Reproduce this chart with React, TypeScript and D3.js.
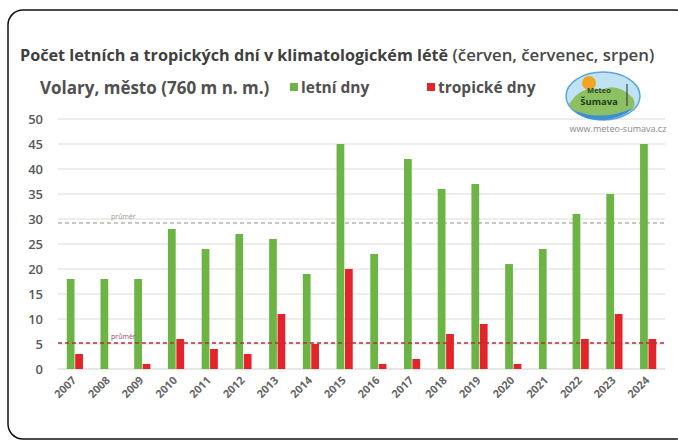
import * as d3 from 'd3'
import { useEffect, useRef } from 'react'

const years = ['2007', '2008', '2009', '2010', '2011', '2012', '2013', '2014', '2015', '2016', '2017', '2018', '2019', '2020', '2021', '2022', '2023', '2024']
const summerDays = [18, 18, 18, 28, 24, 27, 26, 19, 45, 23, 42, 36, 37, 21, 24, 31, 35, 45]
const tropicalDays = [3, 0, 1, 6, 4, 3, 11, 5, 20, 1, 2, 7, 9, 1, 0, 6, 11, 6]
const yTicks = [0, 5, 10, 15, 20, 25, 30, 35, 40, 45, 50]
const summerAvg = 29.2
const tropicalAvg = 5.2

const GREEN = '#6cb544'
const RED = '#e4242b'
const FONT = '"Open Sans", Lato, sans-serif'

export default function App() {
  const svgRef = useRef(null)

  const update = () => {
    const svg = d3.select(svgRef.current)
    svg.selectAll('*').remove()

    // frame
    svg.append('rect')
      .attr('x', 8).attr('y', 10)
      .attr('width', 682).attr('height', 429)
      .attr('rx', 15).attr('ry', 15)
      .attr('fill', '#fff')
      .attr('stroke', '#111').attr('stroke-width', 1.5)

    const left = 58, right = 665, top = 119, bottom = 369

    const x0 = d3.scaleBand().domain(years).range([left, right]).paddingInner(0.48).paddingOuter(0.24)
    const x1 = d3.scaleBand().domain(['s', 't']).range([0, x0.bandwidth()]).padding(0.08)
    const y = d3.scaleLinear().domain([0, 50]).range([bottom, top])

    // grid
    svg.append('g').selectAll('line').data(yTicks).join('line')
      .attr('x1', left).attr('x2', right)
      .attr('y1', d => y(d)).attr('y2', d => y(d))
      .attr('stroke', d => d === 0 ? '#cfcfcf' : '#dcdcdc').attr('stroke-width', 1.2)

    svg.append('g').selectAll('text').data(yTicks).join('text')
      .attr('x', 43).attr('y', d => y(d) + 5)
      .attr('text-anchor', 'end')
      .style('font-family', FONT).style('font-size', '13px').style('font-weight', 600)
      .attr('fill', '#595959')
      .text(d => d)

    // average line for summer days
    svg.append('line')
      .attr('x1', left).attr('x2', right)
      .attr('y1', y(summerAvg)).attr('y2', y(summerAvg))
      .attr('stroke', '#b5b8a8').attr('stroke-width', 1.3).attr('stroke-dasharray', '4,3')
    svg.append('text')
      .attr('x', 111).attr('y', y(summerAvg) - 4)
      .style('font-family', FONT).style('font-size', '7px')
      .attr('fill', '#9a9a8a').text('průměr')

    // bars
    const g = svg.append('g')
    g.selectAll('rect.s').data(years).join('rect')
      .attr('class', 's')
      .attr('x', d => (x0(d) as number) + (x1('s') as number))
      .attr('width', x1.bandwidth())
      .attr('y', (d, i) => y(summerDays[i]))
      .attr('height', (d, i) => bottom - y(summerDays[i]))
      .attr('fill', GREEN)
    g.selectAll('rect.t').data(years).join('rect')
      .attr('class', 't')
      .attr('x', d => (x0(d) as number) + (x1('t') as number))
      .attr('width', x1.bandwidth())
      .attr('y', (d, i) => y(tropicalDays[i]))
      .attr('height', (d, i) => bottom - y(tropicalDays[i]))
      .attr('fill', RED)

    // average line for tropical days
    svg.append('line')
      .attr('x1', left).attr('x2', right)
      .attr('y1', y(tropicalAvg)).attr('y2', y(tropicalAvg))
      .attr('stroke', '#b0303a').attr('stroke-width', 1.3).attr('stroke-dasharray', '4,3')
    svg.append('text')
      .attr('x', 111).attr('y', y(tropicalAvg) - 4)
      .style('font-family', FONT).style('font-size', '7px')
      .attr('fill', '#a0407a').text('průměr')

    // x labels
    svg.append('g').selectAll('text').data(years).join('text')
      .attr('transform', d => `translate(${(x0(d) as number) + x0.bandwidth() / 2 + 2},${bottom + 12}) rotate(-45)`)
      .attr('text-anchor', 'end')
      .style('font-family', FONT).style('font-size', '11px').style('font-weight', 700)
      .attr('fill', '#666')
      .text(d => d)

    // title
    const title = svg.append('text')
      .attr('x', 20).attr('y', 61)
      .style('font-family', FONT).attr('fill', '#404040')
    title.append('tspan').style('font-size', '16.2px').style('font-weight', 700)
      .text('Počet letních a tropických dní v klimatologickém létě')
    title.append('tspan').style('font-size', '16.8px').style('font-weight', 600).attr('fill', '#484848')
      .text(' (červen, červenec, srpen)')

    svg.append('text')
      .attr('x', 40).attr('y', 94)
      .style('font-family', FONT).style('font-size', '17px').style('font-weight', 700)
      .attr('fill', '#505050')
      .text('Volary, město (760 m n. m.)')

    // legend
    const legend = [{ name: 'letní dny', color: GREEN, x: 290 }, { name: 'tropické dny', color: RED, x: 427 }]
    const lg = svg.append('g').selectAll('g').data(legend).join('g')
      .attr('transform', d => `translate(${d.x},83)`)
    lg.append('rect').attr('width', 8).attr('height', 8).attr('fill', d => d.color)
    lg.append('text').attr('x', 11).attr('y', 9.5)
      .style('font-family', FONT).style('font-size', '15.5px').style('font-weight', 700)
      .attr('fill', '#505050').text(d => d.name)

    // logo
    const logo = svg.append('g').attr('transform', 'translate(603,96)')
    logo.append('ellipse').attr('rx', 37).attr('ry', 24).attr('fill', '#bfe3f2').attr('stroke', '#5aa6d6').attr('stroke-width', 1.5)
    logo.append('circle').attr('cx', -14).attr('cy', -13).attr('r', 7).attr('fill', '#f4a425')
    logo.append('path').attr('d', 'M-34,8 Q-20,-12 -2,-6 Q14,-14 30,2 Q34,10 28,14 Q0,26 -30,14 Z').attr('fill', '#8cc063')
    logo.append('path').attr('d', 'M-30,14 Q0,26 30,12 Q20,22 0,24 Q-20,24 -30,14 Z').attr('fill', '#3f8fd0')
    logo.append('line').attr('x1', 24).attr('y1', -12).attr('x2', 24).attr('y2', 10).attr('stroke', '#444').attr('stroke-width', 1.2)
    logo.append('text').attr('x', -4).attr('y', -3).attr('text-anchor', 'middle')
      .style('font-family', FONT).style('font-size', '7.5px').style('font-weight', 700)
      .attr('fill', '#2e4a1f').text('Meteo')
    logo.append('text').attr('x', -4).attr('y', 9).attr('text-anchor', 'middle')
      .style('font-family', FONT).style('font-size', '9.5px').style('font-weight', 700)
      .attr('fill', '#1e3a12').text('Šumava')

    svg.append('text')
      .attr('x', 618).attr('y', 132).attr('text-anchor', 'middle')
      .style('font-family', FONT).style('font-size', '9px')
      .attr('fill', '#888').text('www.meteo-sumava.cz')
  }

  useEffect(() => {
    update()
  })

  return (
    <div style={{ position: 'absolute', left: 0, top: 0, width: 678, height: 441, overflow: 'hidden', background: '#fff' }}>
      <svg ref={svgRef} width={678} height={441}></svg>
    </div>
  )
}
